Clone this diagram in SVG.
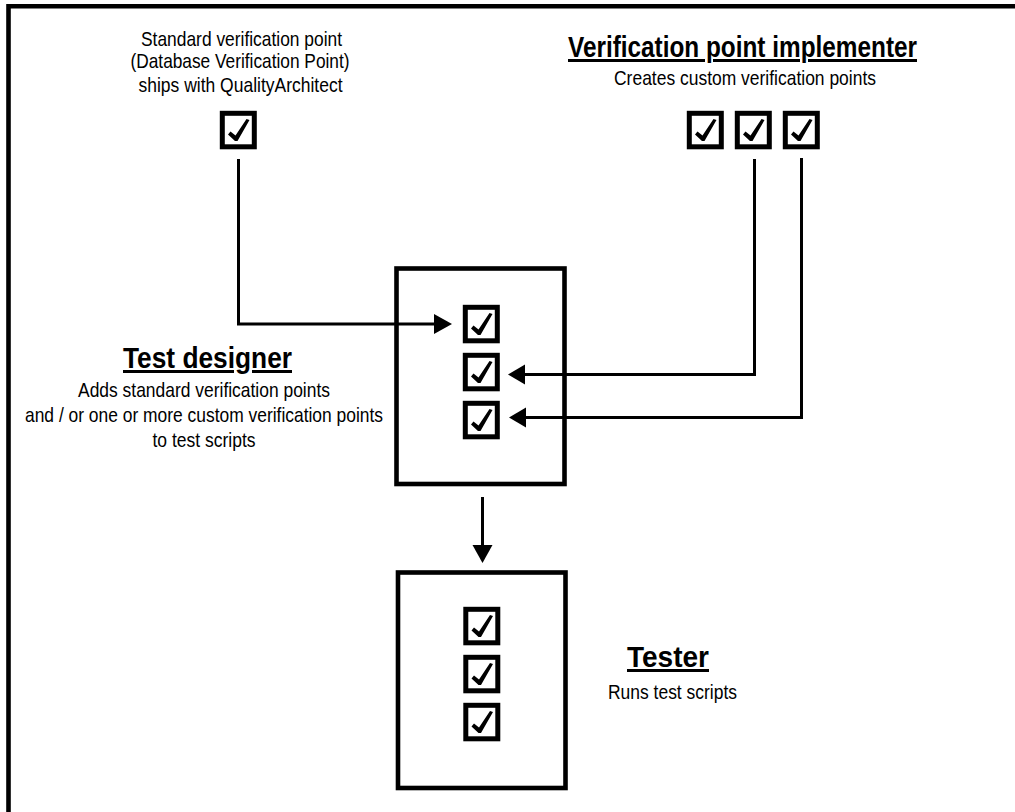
<svg xmlns="http://www.w3.org/2000/svg" width="1015" height="812" viewBox="0 0 1015 812">
<style>
.frame{fill:none;stroke:#000;stroke-width:4.6}
.box{fill:#fff;stroke:#000;stroke-width:5}
.wire{fill:none;stroke:#000;stroke-width:3}
text{font-family:"Liberation Sans Narrow","Liberation Sans",Arial,sans-serif;fill:#000;text-anchor:middle;font-size:21px}
.h{font-weight:bold;font-size:30px;text-decoration:underline}
</style>
<defs>
<g id="cb"><rect class="box" x="2.300" y="2.300" width="32" height="33.500"/><path d="M8 23.500L10.500 20.500L15.500 24.500L26.500 8L29.500 9L17.500 30H15Z"/></g>
</defs>
<rect width="1015" height="812" fill="#fff"/>
<path class="frame" d="M8.500 812V6.300H1015"/>
<g id="connectors">
<path class="wire" d="M238.500 159V324H435"/><polygon points="434,314 452,324 434,334"/>
<path class="wire" d="M754.500 159V374.500H524"/><polygon points="525,364.500 508,374.500 525,384.500"/>
<path class="wire" d="M801.500 158V417.500H524"/><polygon points="526,407.500 509,417.500 526,427.500"/>
<path class="wire" d="M482.500 497V546"/><polygon points="472.500,545 492.500,545 482.500,563"/>
</g>
<g id="standard"><use href="#cb" x="220" y="111"/>
<text x="241.500" y="46" textLength="201" lengthAdjust="spacingAndGlyphs">Standard verification point</text><text x="240" y="68" textLength="219" lengthAdjust="spacingAndGlyphs">(Database Verification Point)</text><text x="240.500" y="91.500" textLength="204" lengthAdjust="spacingAndGlyphs">ships with QualityArchitect</text></g>
<g id="implementer"><use href="#cb" x="687" y="111"/><use href="#cb" x="735" y="111"/><use href="#cb" x="783" y="111"/>
<text class="h" x="742.500" y="57" textLength="349" lengthAdjust="spacingAndGlyphs">Verification point implementer</text><text x="745" y="85" textLength="262" lengthAdjust="spacingAndGlyphs">Creates custom verification points</text></g>
<g id="designer"><rect class="frame" x="396.500" y="268.500" width="168" height="215.500"/>
<use href="#cb" x="463" y="305"/><use href="#cb" x="463" y="353"/><use href="#cb" x="463" y="401"/>
<text class="h" x="207.500" y="368" textLength="169" lengthAdjust="spacingAndGlyphs">Test designer</text><text x="204" y="397" textLength="252" lengthAdjust="spacingAndGlyphs">Adds standard verification points</text><text x="204" y="422" textLength="358" lengthAdjust="spacingAndGlyphs">and / or one or more custom verification points</text><text x="204" y="447" textLength="103" lengthAdjust="spacingAndGlyphs">to test scripts</text></g>
<g id="tester"><rect class="frame" x="398" y="572.500" width="167.500" height="215.500"/>
<use href="#cb" x="463.500" y="607"/><use href="#cb" x="463.500" y="655"/><use href="#cb" x="463.500" y="703"/>
<text class="h" x="668" y="667" textLength="82" lengthAdjust="spacingAndGlyphs">Tester</text><text x="672.500" y="699" textLength="129" lengthAdjust="spacingAndGlyphs">Runs test scripts</text></g>
</svg>
